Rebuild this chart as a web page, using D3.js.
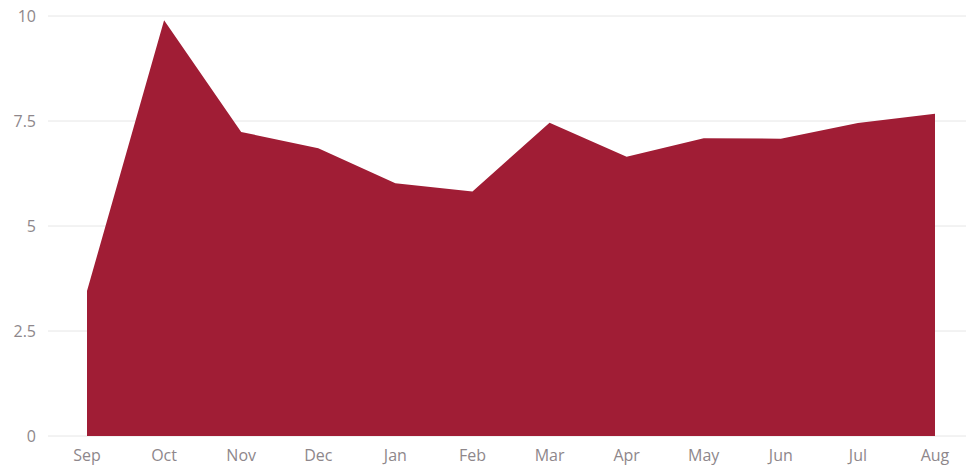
<!DOCTYPE html>
<html><head><meta charset="utf-8">
<script src="https://cdn.jsdelivr.net/npm/d3@7/dist/d3.min.js"></script>
<style>body{margin:0;background:#fff;}svg{display:block;font-family:"Open Sans",sans-serif;}</style>
</head><body>
<script>
const months = ["Sep","Oct","Nov","Dec","Jan","Feb","Mar","Apr","May","Jun","Jul","Aug"];
const values = [3.45, 9.9, 7.24, 6.85, 6.02, 5.82, 7.46, 6.65, 7.09, 7.08, 7.45, 7.67];
const yTicks = [0, 2.5, 5, 7.5, 10];

const W = 966, H = 465;
const svg = d3.select("body").append("svg").attr("width", W).attr("height", H);
const x = d3.scalePoint().domain(months).range([87, 935]);
const y = d3.scaleLinear().domain([0, 10]).range([436, 16]);

// grid
svg.append("g").selectAll("line").data(yTicks).join("line")
  .attr("x1", 48).attr("x2", W).attr("y1", d => y(d)).attr("y2", d => y(d))
  .attr("stroke", "#e6e6e6").attr("stroke-width", 1);

// area
const area = d3.area().x((d,i) => x(months[i])).y0(y(0)).y1(d => y(d));
svg.append("path").datum(values).attr("d", area).attr("fill", "#A01D35");

// y axis labels
svg.append("g").selectAll("text").data(yTicks).join("text")
  .attr("x", 36).attr("y", d => y(d)).attr("dy", "0.35em")
  .attr("text-anchor", "end").attr("fill", "#8e878b").attr("font-size", 16)
  .text(d => d);

// x axis labels
svg.append("g").selectAll("text").data(months).join("text")
  .attr("x", d => x(d)).attr("y", 461)
  .attr("text-anchor", "middle").attr("fill", "#8e878b").attr("font-size", 16)
  .text(d => d);
</script>
</body></html>
